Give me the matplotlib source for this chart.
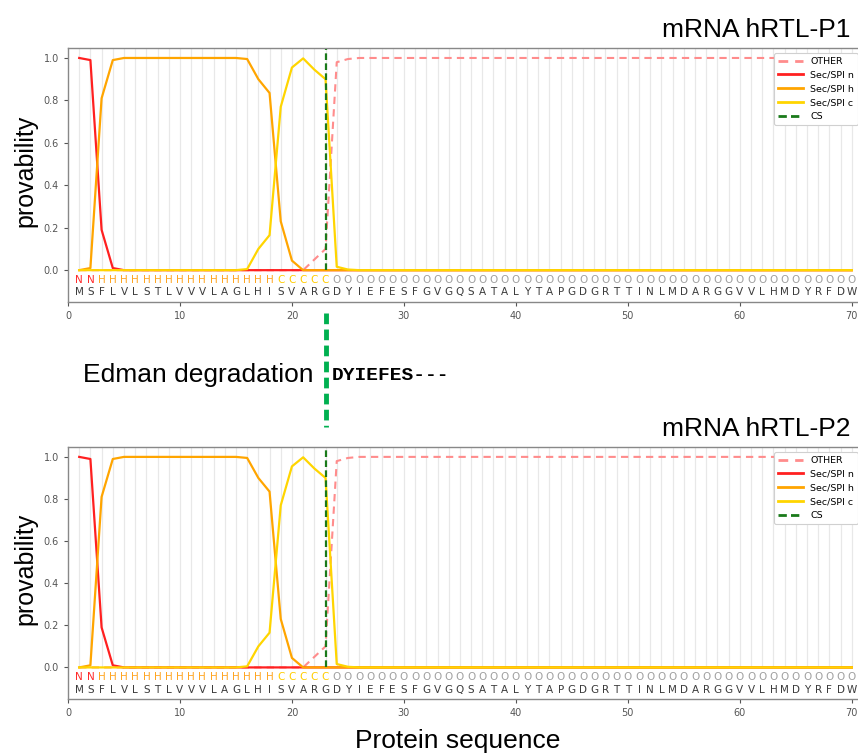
import matplotlib
matplotlib.use("Agg")
import matplotlib.pyplot as plt

# ---------------- data ----------------
positions = list(range(1, 71))
sequence = list("MSFLVLSTLVVVLAGLHISVARGDYIEFESFGVGQSATALYTAPGDGRTTINLMDARGGVVLHMDYRFDW")
regions = list("NNHHHHHHHHHHHHHHHHCCCCCOOOOOOOOOOOOOOOOOOOOOOOOOOOOOOOOOOOOOOOOOOOOOOO")

other = [0.0, 0.0, 0.0, 0.0, 0.0, 0.0, 0.0, 0.0, 0.0, 0.0,
         0.0, 0.0, 0.0, 0.0, 0.0, 0.0, 0.0, 0.0, 0.0, 0.0,
         0.0, 0.05, 0.10, 0.98, 0.995, 1.0, 1.0, 1.0, 1.0, 1.0,
         1.0, 1.0, 1.0, 1.0, 1.0, 1.0, 1.0, 1.0, 1.0, 1.0,
         1.0, 1.0, 1.0, 1.0, 1.0, 1.0, 1.0, 1.0, 1.0, 1.0,
         1.0, 1.0, 1.0, 1.0, 1.0, 1.0, 1.0, 1.0, 1.0, 1.0,
         1.0, 1.0, 1.0, 1.0, 1.0, 1.0, 1.0, 1.0, 1.0, 1.0]
sec_n = [1.0, 0.99, 0.19, 0.01, 0.0, 0.0, 0.0, 0.0, 0.0, 0.0,
         0.0, 0.0, 0.0, 0.0, 0.0, 0.0, 0.0, 0.0, 0.0, 0.0,
         0.0, 0.0, 0.0, 0.0, 0.0, 0.0, 0.0, 0.0, 0.0, 0.0,
         0.0, 0.0, 0.0, 0.0, 0.0, 0.0, 0.0, 0.0, 0.0, 0.0,
         0.0, 0.0, 0.0, 0.0, 0.0, 0.0, 0.0, 0.0, 0.0, 0.0,
         0.0, 0.0, 0.0, 0.0, 0.0, 0.0, 0.0, 0.0, 0.0, 0.0,
         0.0, 0.0, 0.0, 0.0, 0.0, 0.0, 0.0, 0.0, 0.0, 0.0]
sec_h = [0.0, 0.01, 0.81, 0.99, 1.0, 1.0, 1.0, 1.0, 1.0, 1.0,
         1.0, 1.0, 1.0, 1.0, 1.0, 0.995, 0.90, 0.835, 0.23, 0.045,
         0.0, 0.0, 0.0, 0.0, 0.0, 0.0, 0.0, 0.0, 0.0, 0.0,
         0.0, 0.0, 0.0, 0.0, 0.0, 0.0, 0.0, 0.0, 0.0, 0.0,
         0.0, 0.0, 0.0, 0.0, 0.0, 0.0, 0.0, 0.0, 0.0, 0.0,
         0.0, 0.0, 0.0, 0.0, 0.0, 0.0, 0.0, 0.0, 0.0, 0.0,
         0.0, 0.0, 0.0, 0.0, 0.0, 0.0, 0.0, 0.0, 0.0, 0.0]
sec_c = [0.0, 0.0, 0.0, 0.0, 0.0, 0.0, 0.0, 0.0, 0.0, 0.0,
         0.0, 0.0, 0.0, 0.0, 0.0, 0.005, 0.10, 0.165, 0.77, 0.955,
         0.998, 0.945, 0.90, 0.016, 0.003, 0.0, 0.0, 0.0, 0.0, 0.0,
         0.0, 0.0, 0.0, 0.0, 0.0, 0.0, 0.0, 0.0, 0.0, 0.0,
         0.0, 0.0, 0.0, 0.0, 0.0, 0.0, 0.0, 0.0, 0.0, 0.0,
         0.0, 0.0, 0.0, 0.0, 0.0, 0.0, 0.0, 0.0, 0.0, 0.0,
         0.0, 0.0, 0.0, 0.0, 0.0, 0.0, 0.0, 0.0, 0.0, 0.0]
cs_position = 23
titles = ["mRNA hRTL-P1", "mRNA hRTL-P2"]
xticks = [0, 10, 20, 30, 40, 50, 60, 70]
yticks = [0.0, 0.2, 0.4, 0.6, 0.8, 1.0]
edman_label = "Edman degradation"
edman_seq = "DYIEFES---"

# ---------------- styles ----------------
region_colors = {"N": "#ff2a2a", "H": "#ffa520", "C": "#ffcc00", "O": "#a0a0a0"}
c_other = "#ff8c8c"
c_n = "#ff2020"
c_h = "#ffa500"
c_c = "#ffd500"
c_cs = "#1a7a1a"
SANS = "Liberation Sans"

W, H = 858, 754
fig = plt.figure(figsize=(W / 100, H / 100), dpi=100)

axes_px = [(48, 302), (447, 699)]   # top/bottom pixel rows of each axes
left_px, width_px = 68, 795

axes = []
for (top, bot) in axes_px:
    ax = fig.add_axes([left_px / W, 1 - bot / H, width_px / W, (bot - top) / H])
    axes.append(ax)

for i, ax in enumerate(axes):
    ax.set_xlim(0, 71)
    ax.set_ylim(-0.15, 1.047)
    ax.vlines(positions, 0, 1.047, color="#e8e8e8", lw=0.9, zorder=0)
    ax.plot(positions, other, ls=(0, (3.5, 2.5)), color=c_other, lw=1.5, label="OTHER")
    ax.plot(positions, sec_n, color=c_n, lw=1.6, label="Sec/SPI n")
    ax.plot(positions, sec_h, color=c_h, lw=1.6, label="Sec/SPI h")
    ax.plot(positions, sec_c, color=c_c, lw=1.6, label="Sec/SPI c")
    ax.plot([cs_position, cs_position], [0, 1.047], ls=(0, (3, 1.5)),
            color=c_cs, lw=1.6, label="CS")
    for x, r, s in zip(positions, regions, sequence):
        ax.text(x, -0.047, r, color=region_colors[r], ha="center", va="center",
                fontsize=7.5)
        ax.text(x, -0.105, s, color="#3a3a3a", ha="center", va="center",
                fontsize=7.5)
    ax.set_xticks(xticks)
    ax.set_yticks(yticks)
    ax.set_yticklabels([f"{v:.1f}" for v in yticks])
    ax.tick_params(labelsize=7, colors="#555555", length=3, width=0.8)
    for sp in ax.spines.values():
        sp.set_color("#888888")
        sp.set_linewidth(1.0)
    leg = ax.legend(loc="upper right", fontsize=6.8, framealpha=1,
                    edgecolor="#d0d0d0", handlelength=2.6, borderpad=0.45,
                    labelspacing=0.5, fancybox=True)
    leg.get_frame().set_linewidth(0.8)
    for ln in leg.get_lines():
        ln.set_linewidth(2.0)
    top, bot = axes_px[i]
    fig.text(850 / W, 1 - (top - 11) / H, titles[i], ha="right", va="baseline",
             fontsize=19, family=SANS)
    fig.text(25 / W, 1 - ((top + bot) / 2 - 4) / H, "provability", rotation=90,
             ha="center", va="center", fontsize=18, family=SANS)

# Edman degradation annotation
ax0 = axes[0]
ax0.plot([cs_position, cs_position], [-0.20, -0.74], color="#00b050", lw=3.5,
         ls=(0, (2.2, 1.1)), clip_on=False)
fig.text(83 / W, 1 - 382 / H, edman_label, ha="left", va="baseline",
         fontsize=19, family=SANS)
fig.text(332 / W, 1 - 380 / H, edman_seq, ha="left", va="baseline",
         fontsize=14, family="Liberation Mono", weight="bold")

fig.text(458 / W, 1 - 748 / H, "Protein sequence", ha="center", va="baseline",
         fontsize=19, family=SANS)

fig.savefig("out.png", dpi=100)
